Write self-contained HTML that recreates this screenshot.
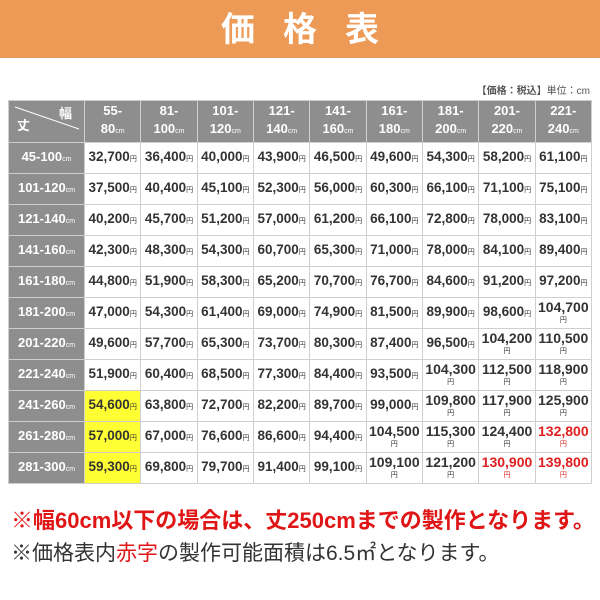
<!DOCTYPE html>
<html><head><meta charset="utf-8"><style>
body{margin:0;width:600px;height:600px;background:#fff;position:relative;overflow:hidden;font-family:"Liberation Sans","Noto Sans CJK JP",sans-serif}
.top{position:absolute;left:0;top:0;width:600px;height:58px;background:#ec9a55;color:#fff;font-size:34px;font-weight:bold;text-align:center;line-height:60px;letter-spacing:28px;text-indent:28px}
.unit{position:absolute;right:10px;top:82px;font-size:10px;color:#555}
table{position:absolute;left:8px;top:100px;width:584px;border-collapse:collapse;table-layout:fixed}
td,th{border:1px solid #cfcfcf;padding:0;text-align:center;color:#333;font-weight:bold;overflow:hidden}
th{background:#8e8e8e;color:#fff;font-size:13px;line-height:18px}
tr.h th{height:41px}
tr.r td,tr.r th{height:30px}
td{font-size:13.5px;line-height:14px}
small{font-size:7px;font-weight:normal}
td.w>div{height:30px;overflow:hidden;font-size:14px;line-height:16px;padding-top:1px;box-sizing:border-box}
td.w small{display:block;line-height:11px}
.y{background:#ffff33}
.red{color:#e02020}
.n1{position:absolute;left:11px;top:503px;font-size:22px;font-weight:bold;color:#e01515;white-space:nowrap}
.n2{position:absolute;left:11px;top:537px;font-size:21px;color:#333;white-space:nowrap}
.n2 span{color:#e01515}
</style></head><body>
<div class="top">価格表</div>
<div class="unit"><b>【価格：税込】</b>単位：cm</div>
<table>
<colgroup><col style="width:76px"><col span="9"></colgroup>
<tr class="h"><th style="position:relative"><svg width="76" height="41" style="position:absolute;left:0;top:0"><line x1="6" y1="6" x2="70" y2="28" stroke="#fff" stroke-width="1"/></svg><span style="position:absolute;left:8px;top:16px">丈</span><span style="position:absolute;right:12px;top:4px">幅</span></th>
<th>55-<br>80<small>cm</small></th><th>81-<br>100<small>cm</small></th><th>101-<br>120<small>cm</small></th><th>121-<br>140<small>cm</small></th><th>141-<br>160<small>cm</small></th><th>161-<br>180<small>cm</small></th><th>181-<br>200<small>cm</small></th><th>201-<br>220<small>cm</small></th><th>221-<br>240<small>cm</small></th></tr>
<tr class="r"><th>45-100<small>cm</small></th><td>32,700<small>円</small></td><td>36,400<small>円</small></td><td>40,000<small>円</small></td><td>43,900<small>円</small></td><td>46,500<small>円</small></td><td>49,600<small>円</small></td><td>54,300<small>円</small></td><td>58,200<small>円</small></td><td>61,100<small>円</small></td></tr>
<tr class="r"><th>101-120<small>cm</small></th><td>37,500<small>円</small></td><td>40,400<small>円</small></td><td>45,100<small>円</small></td><td>52,300<small>円</small></td><td>56,000<small>円</small></td><td>60,300<small>円</small></td><td>66,100<small>円</small></td><td>71,100<small>円</small></td><td>75,100<small>円</small></td></tr>
<tr class="r"><th>121-140<small>cm</small></th><td>40,200<small>円</small></td><td>45,700<small>円</small></td><td>51,200<small>円</small></td><td>57,000<small>円</small></td><td>61,200<small>円</small></td><td>66,100<small>円</small></td><td>72,800<small>円</small></td><td>78,000<small>円</small></td><td>83,100<small>円</small></td></tr>
<tr class="r"><th>141-160<small>cm</small></th><td>42,300<small>円</small></td><td>48,300<small>円</small></td><td>54,300<small>円</small></td><td>60,700<small>円</small></td><td>65,300<small>円</small></td><td>71,000<small>円</small></td><td>78,000<small>円</small></td><td>84,100<small>円</small></td><td>89,400<small>円</small></td></tr>
<tr class="r"><th>161-180<small>cm</small></th><td>44,800<small>円</small></td><td>51,900<small>円</small></td><td>58,300<small>円</small></td><td>65,200<small>円</small></td><td>70,700<small>円</small></td><td>76,700<small>円</small></td><td>84,600<small>円</small></td><td>91,200<small>円</small></td><td>97,200<small>円</small></td></tr>
<tr class="r"><th>181-200<small>cm</small></th><td>47,000<small>円</small></td><td>54,300<small>円</small></td><td>61,400<small>円</small></td><td>69,000<small>円</small></td><td>74,900<small>円</small></td><td>81,500<small>円</small></td><td>89,900<small>円</small></td><td>98,600<small>円</small></td><td class="w"><div>104,700<small>円</small></div></td></tr>
<tr class="r"><th>201-220<small>cm</small></th><td>49,600<small>円</small></td><td>57,700<small>円</small></td><td>65,300<small>円</small></td><td>73,700<small>円</small></td><td>80,300<small>円</small></td><td>87,400<small>円</small></td><td>96,500<small>円</small></td><td class="w"><div>104,200<small>円</small></div></td><td class="w"><div>110,500<small>円</small></div></td></tr>
<tr class="r"><th>221-240<small>cm</small></th><td>51,900<small>円</small></td><td>60,400<small>円</small></td><td>68,500<small>円</small></td><td>77,300<small>円</small></td><td>84,400<small>円</small></td><td>93,500<small>円</small></td><td class="w"><div>104,300<small>円</small></div></td><td class="w"><div>112,500<small>円</small></div></td><td class="w"><div>118,900<small>円</small></div></td></tr>
<tr class="r"><th>241-260<small>cm</small></th><td class="y">54,600<small>円</small></td><td>63,800<small>円</small></td><td>72,700<small>円</small></td><td>82,200<small>円</small></td><td>89,700<small>円</small></td><td>99,000<small>円</small></td><td class="w"><div>109,800<small>円</small></div></td><td class="w"><div>117,900<small>円</small></div></td><td class="w"><div>125,900<small>円</small></div></td></tr>
<tr class="r"><th>261-280<small>cm</small></th><td class="y">57,000<small>円</small></td><td>67,000<small>円</small></td><td>76,600<small>円</small></td><td>86,600<small>円</small></td><td>94,400<small>円</small></td><td class="w"><div>104,500<small>円</small></div></td><td class="w"><div>115,300<small>円</small></div></td><td class="w"><div>124,400<small>円</small></div></td><td class="w red"><div>132,800<small>円</small></div></td></tr>
<tr class="r"><th>281-300<small>cm</small></th><td class="y">59,300<small>円</small></td><td>69,800<small>円</small></td><td>79,700<small>円</small></td><td>91,400<small>円</small></td><td>99,100<small>円</small></td><td class="w"><div>109,100<small>円</small></div></td><td class="w"><div>121,200<small>円</small></div></td><td class="w red"><div>130,900<small>円</small></div></td><td class="w red"><div>139,800<small>円</small></div></td></tr>
</table>
<div class="n1">※幅60cm以下の場合は、丈250cmまでの製作となります。</div>
<div class="n2">※価格表内<span>赤字</span>の製作可能面積は6.5㎡となります。</div>
</body></html>
